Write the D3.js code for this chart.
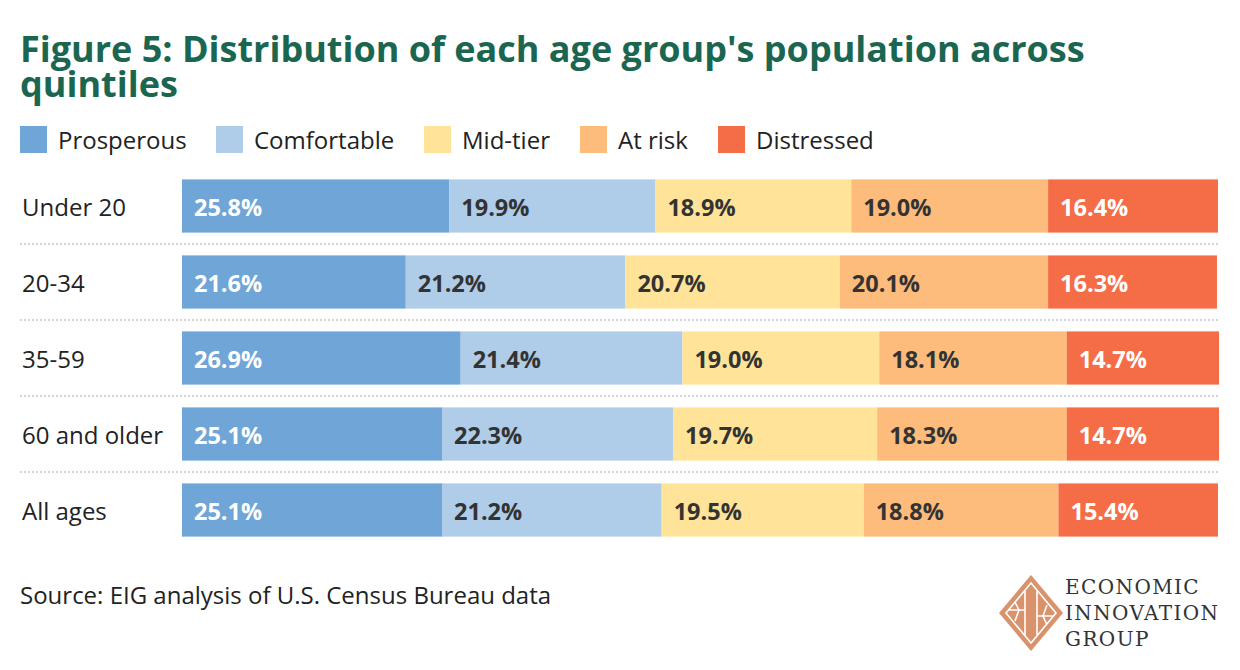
<!DOCTYPE html>
<html>
<head>
<meta charset="utf-8">
<script src="https://cdn.jsdelivr.net/npm/d3@7"></script>
<style>
  body { margin: 0; background: #fff; }
  svg { font-family: "Open Sans", sans-serif; }
</style>
</head>
<body>
<div id="chart"></div>
<script>
const groups = ['Under 20', '20-34', '35-59', '60 and older', 'All ages'];
const quintiles = ['Prosperous', 'Comfortable', 'Mid-tier', 'At risk', 'Distressed'];
const prosperous = [25.8, 21.6, 26.9, 25.1, 25.1];
const comfortable = [19.9, 21.2, 21.4, 22.3, 21.2];
const midTier = [18.9, 20.7, 19.0, 19.7, 19.5];
const atRisk = [19.0, 20.1, 18.1, 18.3, 18.8];
const distressed = [16.4, 16.3, 14.7, 14.7, 15.4];

const colors = ['#6fa5d7', '#afcce8', '#fee398', '#fdbb7c', '#f46d47'];
const labelColors = ['#fff', '#333', '#333', '#333', '#fff'];

const w = 1240, h = 670;

const rows = groups.map((g, i) => ({
    group: g,
    Prosperous: prosperous[i],
    Comfortable: comfortable[i],
    'Mid-tier': midTier[i],
    'At risk': atRisk[i],
    Distressed: distressed[i]
}));

const svg = d3.select('#chart')
    .append('svg')
    .attr('width', w)
    .attr('height', h);

// Title
svg.append('text')
    .attr('x', 20)
    .attr('y', 62)
    .attr('fill', '#1b6650')
    .attr('font-weight', 700)
    .attr('font-size', 36)
    .text("Figure 5: Distribution of each age group's population across");
svg.append('text')
    .attr('x', 20)
    .attr('y', 97)
    .attr('fill', '#1b6650')
    .attr('font-weight', 700)
    .attr('font-size', 36)
    .text('quintiles');

// Legend
const legendX = [20, 216, 424, 580, 718];
const legend = svg.append('g');
quintiles.forEach((q, i) => {
    legend.append('rect')
        .attr('x', legendX[i])
        .attr('y', 126)
        .attr('width', 27)
        .attr('height', 27)
        .attr('fill', colors[i]);
    legend.append('text')
        .attr('x', legendX[i] + 38)
        .attr('y', 140)
        .attr('dy', '0.38em')
        .attr('font-size', 24)
        .attr('fill', '#222')
        .text(q);
});

// Scales
const x = d3.scaleLinear().domain([0, 100]).range([182, 1218]);
const y = d3.scaleBand().domain(groups).range([168, 548]).paddingInner(0.3).paddingOuter(0.15);

const stack = d3.stack().keys(quintiles)(rows);

// Separators
svg.selectAll('line.sep')
    .data(groups.slice(1))
    .enter()
    .append('line')
    .attr('class', 'sep')
    .attr('x1', 20)
    .attr('x2', 1218)
    .attr('y1', d => y(d) - y.step() * y.paddingInner() / 2)
    .attr('y2', d => y(d) - y.step() * y.paddingInner() / 2)
    .attr('stroke', '#d4d4d4')
    .attr('stroke-width', 2)
    .attr('stroke-dasharray', '2,2');

// Category labels
svg.selectAll('text.cat')
    .data(groups)
    .enter()
    .append('text')
    .attr('class', 'cat')
    .attr('x', 22)
    .attr('y', d => y(d) + y.bandwidth() / 2)
    .attr('dy', '0.42em')
    .attr('font-size', 24)
    .attr('fill', '#222')
    .text(d => d);

// Bars
const layers = svg.selectAll('g.layer')
    .data(stack)
    .enter()
    .append('g')
    .attr('class', 'layer');

layers.selectAll('rect')
    .data(d => d)
    .enter()
    .append('rect')
    .attr('x', d => x(d[0]))
    .attr('y', d => y(d.data.group))
    .attr('width', d => x(d[1]) - x(d[0]))
    .attr('height', y.bandwidth())
    .attr('fill', (d, i, n) => colors[stack.indexOf(d3.select(n[i].parentNode).datum())]);

layers.each(function(layer, k) {
    d3.select(this).selectAll('text')
        .data(layer)
        .enter()
        .append('text')
        .attr('x', d => x(d[0]) + 12)
        .attr('y', d => y(d.data.group) + y.bandwidth() / 2)
        .attr('dy', '0.42em')
        .attr('font-size', 23.5)
        .attr('font-weight', 700)
        .attr('fill', labelColors[k])
        .text(d => (d[1] - d[0]).toFixed(1) + '%');
});

// Source
svg.append('text')
    .attr('x', 20)
    .attr('y', 604)
    .attr('font-size', 24)
    .attr('fill', '#222')
    .text('Source: EIG analysis of U.S. Census Bureau data');

// Logo
const logo = svg.append('g').attr('transform', 'translate(1031, 613)');
logo.append('path')
    .attr('d', 'M0,-38 L32,0 L0,38 L-32,0 Z')
    .attr('fill', '#d9936c');
logo.append('path')
    .attr('d', 'M0,-30 L25,0 L0,30 L-25,0 Z M-6,-22 L-6,22 M6,-22 L6,22 M-22,-3 L-6,-3 M6,3 L22,3 M-16,-11 L-12,-3 M-16,8 L-12,-3 M16,-8 L12,3 M16,12 L12,3')
    .attr('fill', 'none')
    .attr('stroke', '#fff')
    .attr('stroke-width', 1.6);

const logoText = svg.append('text')
    .attr('font-family', '"DejaVu Serif", "Liberation Serif", serif')
    .attr('font-size', 20)
    .attr('fill', '#333')
    .attr('letter-spacing', 1.4);
['ECONOMIC', 'INNOVATION', 'GROUP'].forEach((t, i) => {
    logoText.append('tspan')
        .attr('x', 1065)
        .attr('y', 594 + i * 26)
        .text(t);
});
</script>
</body>
</html>
